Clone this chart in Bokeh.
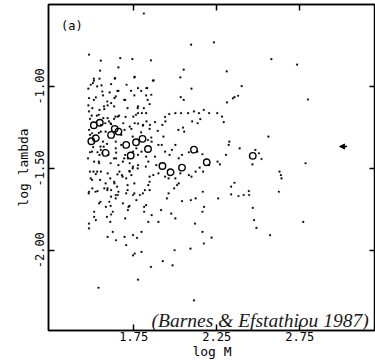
from bokeh.plotting import figure
from bokeh.models import (Range1d, FixedTicker, PrintfTickFormatter, LinearAxis,
                          Label, Arrow, NormalHead)
from bokeh.embed import file_html
from bokeh.resources import INLINE

# ---- data: individual halos (dots) ----
dot_logM = [
    1.811, 1.481, 2.233, 2.096, 2.579, 2.734, 2.799, 1.552, 1.669, 1.742,
    1.854, 1.658, 1.548, 2.310, 2.051, 1.510, 1.756, 1.638, 1.870, 2.031,
    2.400, 2.379, 2.357, 2.312, 2.347, 1.477, 1.491, 1.504, 1.556, 1.614,
    1.658, 1.605, 1.776, 1.827, 2.098, 2.033, 2.051, 1.481, 1.522, 1.565,
    1.634, 1.614, 1.699, 1.776, 1.834, 1.477, 1.501, 1.544, 1.573, 1.593,
    1.528, 1.567, 1.593, 1.654, 1.701, 1.748, 1.776, 1.799, 1.811, 1.481,
    1.497, 1.487, 1.552, 1.579, 1.601, 1.614, 1.632, 1.640, 1.939, 1.964,
    2.001, 2.035, 2.078, 2.113, 2.143, 2.172, 2.204, 2.253, 2.282, 2.292,
    2.151, 2.135, 2.102, 2.047, 2.054, 2.019, 1.941, 1.923, 1.895, 1.929,
    1.848, 1.878, 1.827, 1.807, 1.776, 1.756, 1.726, 1.736, 1.695, 1.675,
    1.552, 1.540, 1.481, 1.487, 1.565, 1.589, 1.642, 1.675, 1.569, 1.552,
    1.532, 1.506, 1.487, 1.475, 1.512, 1.542, 1.544, 1.597, 1.644, 1.644,
    1.658, 1.685, 1.699, 1.715, 1.726, 1.746, 1.726, 1.736, 1.776, 1.797,
    1.858, 1.899, 1.919, 1.939, 1.966, 1.980, 2.001, 2.021, 1.878, 1.838,
    1.823, 1.776, 1.746, 1.766, 1.487, 1.491, 1.508, 1.522, 1.552, 1.593,
    1.609, 1.634, 1.650, 1.664, 1.679, 1.705, 1.548, 1.481, 1.532, 1.573,
    1.614, 1.654, 1.705, 1.746, 1.787, 1.817, 1.838, 1.868, 1.899, 1.939,
    1.960, 2.001, 2.021, 2.011, 2.031, 2.082, 2.098, 2.123, 2.147, 2.168,
    2.204, 2.255, 2.269, 2.164, 2.133, 2.082, 2.041, 2.306, 2.326, 2.322,
    2.388, 2.561, 2.483, 2.504, 2.520, 2.465, 2.628, 2.636, 2.640, 2.785,
    2.337, 2.357, 2.381, 2.412, 2.443, 2.445, 2.259, 2.337, 2.166, 2.174,
    2.164, 2.123, 2.094, 2.041, 1.994, 1.960, 1.950, 1.915, 1.976, 2.001,
    1.899, 1.858, 1.813, 1.813, 1.838, 1.766, 1.719, 1.715, 1.685, 1.603,
    1.583, 1.542, 1.512, 1.512, 1.522, 1.481, 1.481, 1.589, 1.614, 1.609,
    1.593, 1.624, 1.644, 1.695, 1.705, 1.746, 1.756, 1.746, 1.797, 1.797,
    1.854, 1.925, 1.984, 1.996, 2.092, 2.119, 2.164, 2.172, 2.219, 2.467,
    2.475, 2.489, 2.571, 2.624, 2.771, 1.776, 1.538, 2.113, 1.770, 1.624,
    1.699, 1.593, 1.501, 1.614, 1.658,
    1.846, 1.795, 1.499, 1.581, 1.744, 1.836, 1.856, 1.550, 1.642, 1.499,
    1.561, 1.632, 1.693, 1.825, 1.540, 1.611, 1.774, 1.886, 1.530, 1.652,
    1.683, 1.724, 1.744, 1.846, 1.499, 1.581, 1.632, 1.713, 1.754, 1.846,
    1.479, 1.520, 1.591, 1.642, 1.713, 1.754, 1.805, 1.846, 1.550, 1.611,
    1.642, 1.724, 1.825,
    1.510, 1.544, 1.636, 1.707, 1.754, 1.866, 1.530, 1.561, 1.652, 1.734,
    1.795, 1.831, 1.510, 1.591, 1.642, 1.693, 1.754, 1.825, 1.856, 1.571,
    1.632, 1.713, 1.774, 1.846, 1.540, 1.662, 1.764, 1.825, 1.611, 1.687,
    1.805,
]
dot_loglambda = [
    -0.555, -0.806, -0.731, -0.745, -0.833, -0.867, -1.080, -0.843, -0.827, -0.833,
    -0.841, -0.884, -0.904, -0.908, -0.898, -0.953, -0.941, -0.949, -0.963, -0.945,
    -0.998, -1.057, -1.065, -1.098, -1.073, -1.014, -0.990, -0.980, -0.994, -0.986,
    -1.027, -1.037, -1.010, -1.010, -1.014, -1.065, -1.082, -1.071, -1.067, -1.055,
    -1.071, -1.102, -1.082, -1.122, -1.082, -1.116, -1.133, -1.143, -1.139, -1.116,
    -1.178, -1.194, -1.194, -1.184, -1.186, -1.184, -1.163, -1.163, -1.133, -1.153,
    -1.178, -1.198, -1.235, -1.225, -1.214, -1.231, -1.198, -1.184, -1.186, -1.169,
    -1.163, -1.163, -1.163, -1.153, -1.163, -1.143, -1.163, -1.163, -1.184, -1.218,
    -1.200, -1.225, -1.214, -1.251, -1.276, -1.265, -1.214, -1.235, -1.271, -1.306,
    -1.235, -1.218, -1.214, -1.235, -1.227, -1.225, -1.245, -1.259, -1.265, -1.296,
    -1.276, -1.284, -1.265, -1.296, -1.337, -1.351, -1.337, -1.357, -1.367, -1.388,
    -1.402, -1.371, -1.402, -1.439, -1.459, -1.469, -1.418, -1.418, -1.404, -1.439,
    -1.480, -1.459, -1.418, -1.439, -1.469, -1.490, -1.520, -1.541, -1.418, -1.398,
    -1.337, -1.357, -1.357, -1.398, -1.418, -1.388, -1.357, -1.439, -1.429, -1.459,
    -1.490, -1.480, -1.398, -1.378, -1.520, -1.561, -1.520, -1.535, -1.520, -1.531,
    -1.561, -1.592, -1.612, -1.520, -1.541, -1.561, -1.571, -1.643, -1.639, -1.622,
    -1.633, -1.663, -1.653, -1.663, -1.663, -1.633, -1.602, -1.541, -1.531, -1.551,
    -1.561, -1.561, -1.592, -1.602, -1.531, -1.541, -1.551, -1.520, -1.496, -1.520,
    -1.480, -1.459, -1.476, -1.414, -1.398, -1.402, -1.418, -1.418, -1.337, -1.357,
    -1.378, -1.306, -1.388, -1.408, -1.443, -1.476, -1.520, -1.541, -1.561, -1.469,
    -1.612, -1.588, -1.669, -1.663, -1.639, -1.663, -1.684, -1.659, -1.643, -1.735,
    -1.765, -1.684, -1.694, -1.700, -1.622, -1.653, -1.684, -1.755, -1.776, -1.806,
    -1.827, -1.786, -1.735, -1.765, -1.827, -1.694, -1.735, -1.755, -1.714, -1.704,
    -1.735, -1.714, -1.765, -1.796, -1.816, -1.837, -1.867, -1.796, -1.782, -1.827,
    -1.918, -1.888, -1.939, -1.918, -1.969, -1.908, -2.020, -2.031, -1.888, -2.010,
    -2.102, -2.067, -2.092, -2.000, -1.990, -1.837, -1.888, -1.959, -1.923, -1.741,
    -1.816, -1.863, -1.908, -1.643, -1.827, -2.180, -2.229, -2.306, -1.925, -1.765,
    -1.806, -1.622, -1.622, -1.673, -1.643,
    -1.259, -1.280, -1.286, -1.276, -1.306, -1.327, -1.312, -1.367, -1.378, -1.398,
    -1.408, -1.439, -1.439, -1.429, -1.459, -1.469, -1.500, -1.480, -1.520, -1.537,
    -1.551, -1.516, -1.500, -1.551, -1.571, -1.592, -1.582, -1.602, -1.592, -1.582,
    -1.653, -1.643, -1.633, -1.663, -1.633, -1.653, -1.653, -1.633, -1.704, -1.729,
    -1.684, -1.729, -1.725,
    -0.965, -0.953, -0.953, -0.990, -0.945, -0.965, -1.000, -1.031, -1.027, -1.027,
    -1.027, -1.010, -1.082, -1.092, -1.061, -1.082, -1.055, -1.055, -1.051, -1.122,
    -1.122, -1.133, -1.133, -1.108, -1.173, -1.178, -1.173, -1.163, -1.225, -1.225,
    -1.239,
]

# ---- data: binned / highlighted values (open circles) ----
circ_logM = [1.510, 1.546, 1.495, 1.522, 1.581, 1.614, 1.636, 1.658, 1.705, 1.732,
             1.764, 1.803, 1.836, 1.923, 1.972, 2.041, 2.113, 2.190, 2.467]
circ_loglambda = [-1.237, -1.222, -1.335, -1.316, -1.406, -1.296, -1.259, -1.276, -1.357, -1.422,
                  -1.341, -1.320, -1.382, -1.486, -1.524, -1.496, -1.386, -1.463, -1.424]

# arrow marker (pointing left)
arrow_logM = [3.035, 2.990]
arrow_loglambda = -1.367

x_ticks = [1.75, 2.25, 2.75]
y_ticks = [-2.00, -1.50, -1.00]

MONO = "DejaVu Sans Mono"

p = figure(width=375, height=361, output_backend="svg", toolbar_location=None,
           x_range=Range1d(1.237, 3.206), y_range=Range1d(-2.49, -0.50),
           min_border_left=48, min_border_right=0, min_border_top=4, min_border_bottom=29,
           background_fill_color="white", border_fill_color="white")

p.grid.visible = False
p.outline_line_color = "black"
p.outline_line_width = 1.5

# bottom axis
xa = p.xaxis[0]
xa.ticker = FixedTicker(ticks=x_ticks)
xa.formatter = PrintfTickFormatter(format="%.2f")
xa.axis_label = "log M"
# left axis
ya = p.yaxis[0]
ya.ticker = FixedTicker(ticks=y_ticks)
ya.formatter = PrintfTickFormatter(format="%.2f")
ya.axis_label = "log lambda"
ya.major_label_orientation = "vertical"

for ax in (xa, ya):
    ax.axis_line_color = "black"
    ax.axis_line_width = 1.5
    ax.major_tick_in = 6
    ax.major_tick_out = 0
    ax.major_tick_line_width = 1.5
    ax.minor_tick_line_color = None
    ax.major_label_text_font = MONO
    ax.major_label_text_font_size = "12px"
    ax.major_label_text_color = "black"
    ax.axis_label_text_font = MONO
    ax.axis_label_text_font_size = "13px"
    ax.axis_label_text_font_style = "normal"
    ax.axis_label_text_color = "black"
    ax.major_label_standoff = 1
    ax.axis_label_standoff = 0
ya.major_label_standoff = 4
ya.axis_label_standoff = 2

# mirrored ticks on top and right
top = LinearAxis(ticker=FixedTicker(ticks=x_ticks))
right = LinearAxis(ticker=FixedTicker(ticks=y_ticks))
for ax in (top, right):
    ax.axis_line_color = "black"
    ax.axis_line_width = 1.5
    ax.major_tick_in = 6
    ax.major_tick_out = 0
    ax.major_tick_line_width = 1.5
    ax.minor_tick_line_color = None
    ax.major_label_text_font_size = "0px"
    ax.major_label_text_color = None
    ax.major_label_standoff = 0
p.add_layout(top, "above")
p.add_layout(right, "right")

# dots
p.scatter(dot_logM, dot_loglambda, marker="square", size=1.7,
          fill_color="black", line_color="black", line_width=0.2)
# open circles
p.scatter(circ_logM, circ_loglambda, marker="circle", size=6.5,
          fill_color=None, line_color="black", line_width=1.4)

# arrow
p.add_layout(Arrow(end=NormalHead(size=5, fill_color="black", line_color="black"),
                   x_start=arrow_logM[0], x_end=arrow_logM[1],
                   y_start=arrow_loglambda, y_end=arrow_loglambda,
                   line_color="black", line_width=1.5))

# panel label
p.add_layout(Label(x=1.312, y=-0.633, text="(a)", text_font=MONO,
                   text_font_size="12px", text_baseline="middle", text_color="black"))

# citation
p.add_layout(Label(x=3.165, y=-2.43, text="(Barnes & Efstathiou 1987)",
                   text_font="Liberation Serif", text_font_style="italic",
                   text_font_size="19.5px", text_align="right",
                   text_baseline="alphabetic", text_color="#1a1a1a"))

open("out.html", "w").write(file_html(p, INLINE))
